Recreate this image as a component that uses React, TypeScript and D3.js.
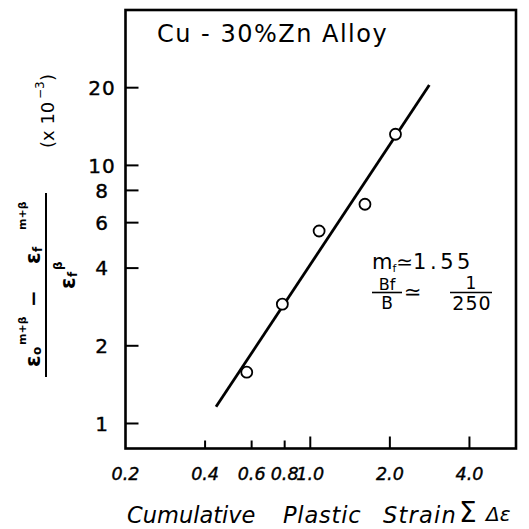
import React from 'react';
import * as d3 from 'd3';

const xTickValues = [0.2, 0.4, 0.6, 0.8, 1.0, 2.0, 4.0];
const xTickLabels = ['0.2', '0.4', '0.6', '0.8', '1.0', '2.0', '4.0'];
const yTickValues = [1, 2, 4, 6, 8, 10, 20];
const yTickLabels = ['1', '2', '4', '6', '8', '10', '20'];
const strainData = [0.575, 0.784, 1.08, 1.61, 2.1];
const ratioData = [1.58, 2.9, 5.57, 7.07, 13.2];
const fitStrain = [0.44, 2.82];
const fitRatio = [1.16, 20.5];

const FONT = "'DejaVu Sans', sans-serif";

export default function App() {
  const left = 125.5, right = 516, top = 10, bottom = 448.5;
  const x = d3.scaleLog().domain([0.2, 6]).range([left, right]);
  const y = d3.scaleLog().domain([0.8, 40]).range([bottom, top]);
  const points = strainData.map((s, i) => [s, ratioData[i]] as [number, number]);
  const fit = fitStrain.map((s, i) => [s, fitRatio[i]] as [number, number]);
  const lineGen = d3.line<[number, number]>().x(d => x(d[0])).y(d => y(d[1]));

  return (
    <svg width={529} height={529} style={{ position: 'absolute', left: 0, top: 0, background: '#fff' }}
      fontFamily={FONT}>
      <rect x={0} y={0} width={529} height={529} fill="#fff" />
      {/* frame */}
      <rect x={left} y={top} width={right - left} height={bottom - top} fill="none" stroke="#000" strokeWidth={2.6} />
      {/* y ticks */}
      {yTickValues.map((v, i) => (
        <g key={'y' + i}>
          <line x1={left} x2={left + 13} y1={y(v)} y2={y(v)} stroke="#000" strokeWidth={2} />
          <text x={102} y={y(v)} dy="0.36em" textAnchor="middle" fontSize={20} letterSpacing={1}
            stroke="#000" strokeWidth={0.4}>{yTickLabels[i]}</text>
        </g>
      ))}
      {/* x ticks */}
      {xTickValues.map((v, i) => (
        <g key={'x' + i}>
          {v > 0.2 && <line x1={x(v)} x2={x(v)} y1={bottom} y2={bottom - (v >= 1 ? 12 : 8)} stroke="#000" strokeWidth={2} />}
          <text x={x(v)} y={480} textAnchor="middle" fontSize={17.5} fontStyle="italic"
            stroke="#000" strokeWidth={0.4}>{xTickLabels[i]}</text>
        </g>
      ))}
      {/* fit line */}
      <path d={lineGen(fit) || ''} fill="none" stroke="#000" strokeWidth={2.8} />
      {/* points */}
      {points.map((p, i) => (
        <circle key={'p' + i} cx={x(p[0])} cy={y(p[1])} r={5.5} fill="#fff" stroke="#000" strokeWidth={1.8} />
      ))}
      {/* title */}
      <text x={157} y={42} fontSize={24} letterSpacing={1.5}>Cu - 30%Zn Alloy</text>
      {/* annotations */}
      <text x={372} y={269} fontSize={21}>
        <tspan>m</tspan>
        <tspan fontSize={11} dy={3}>f</tspan>
        <tspan dy={-3} fontSize={20}>≃</tspan>
        <tspan fontSize={21} letterSpacing={3.5}>1.55</tspan>
      </text>
      <text x={387} y={290} fontSize={16} textAnchor="middle">Bf</text>
      <line x1={372} x2={402} y1={292.5} y2={292.5} stroke="#000" strokeWidth={1.6} />
      <text x={387} y={309} fontSize={17} textAnchor="middle">B</text>
      <text x={404} y={299} fontSize={21}>≃</text>
      <text x={471} y={289} fontSize={17} textAnchor="middle">1</text>
      <line x1={450} x2={492} y1={292.5} y2={292.5} stroke="#000" strokeWidth={1.6} />
      <text x={472} y={310} fontSize={19} textAnchor="middle" letterSpacing={1}>250</text>
      {/* x axis title */}
      <text y={523} fontSize={22.5} fontStyle="italic">
        <tspan x={127}>Cumulative</tspan>
        <tspan x={283} letterSpacing={0.8}>Plastic</tspan>
        <tspan x={383} letterSpacing={1.2}>Strain</tspan>
      </text>
      <text x={459} y={522} fontSize={28}>Σ</text>
      <text x={486} y={521} fontSize={20} fontStyle="italic">Δε</text>
      {/* y axis label: fraction */}
      <line x1={46} x2={46} y1={193} y2={377} stroke="#000" strokeWidth={2} />
      <g transform="translate(40,367) rotate(-90)" fontWeight="bold">
        <text x={0} y={0} fontSize={21}>ε</text>
        <text x={12} y={1} fontSize={12}>o</text>
        <text x={22} y={-14} fontSize={11}>m+β</text>
        <text x={60} y={0} fontSize={20}>−</text>
        <text x={103} y={0} fontSize={21}>ε</text>
        <text x={115} y={2} fontSize={12}>f</text>
        <text x={137} y={-14} fontSize={11}>m+β</text>
      </g>
      <g transform="translate(75,289) rotate(-90)" fontWeight="bold">
        <text x={0} y={0} fontSize={21}>ε</text>
        <text x={12} y={2} fontSize={12}>f</text>
        <text x={19} y={-13} fontSize={12}>β</text>
      </g>
      <g transform="translate(54,148) rotate(-90)">
        <text x={0} y={0} fontSize={18}>(x 10</text>
        <text x={49} y={-10} fontSize={12}>−3</text>
        <text x={67} y={0} fontSize={18}>)</text>
      </g>
    </svg>
  );
}
